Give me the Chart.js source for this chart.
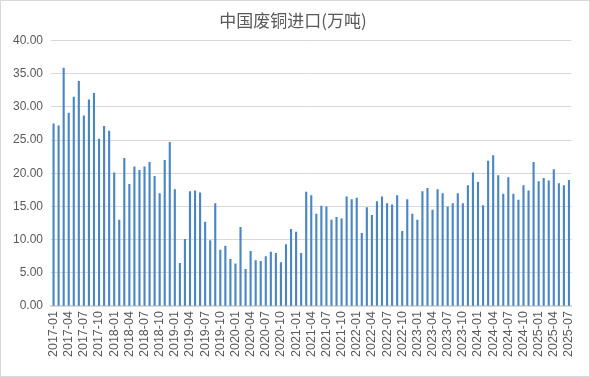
<!DOCTYPE html>
<html>
<head>
<meta charset="utf-8">
<script src="https://cdn.jsdelivr.net/npm/chart.js@4"></script>
<style>
  html, body { margin: 0; padding: 0; background: #fff; }
  #wrap { width: 588px; height: 375px; border: 1px solid #d9d9d9; }
</style>
</head>
<body>
<div id="wrap"><canvas id="chart" width="588" height="375"></canvas></div>
<script>
// months 2017-01 .. 2025-07
const months = [];
for (let y = 2017; y <= 2025; y++) {
  for (let m = 1; m <= 12; m++) {
    if (y === 2025 && m > 7) break;
    months.push(y + "-" + String(m).padStart(2, "0"));
  }
}

// 万吨
const imports2017 = [27.5, 27.2, 35.9, 29.1, 31.5, 33.9, 28.7, 31.1, 32.1, 25.2, 27.1, 26.4];
const imports2018 = [20.1, 13.0, 22.3, 18.4, 21.0, 20.5, 21.0, 21.7, 19.6, 17.0, 22.0, 24.7];
const imports2019 = [17.6, 6.5, 10.1, 17.3, 17.4, 17.1, 12.7, 9.9, 15.5, 8.5, 9.1, 7.1];
const imports2020 = [6.4, 11.9, 5.6, 8.3, 6.9, 6.8, 7.5, 8.2, 8.0, 6.6, 9.3, 11.6];
const imports2021 = [11.2, 8.0, 17.2, 16.7, 13.9, 15.1, 15.0, 13.0, 13.4, 13.2, 16.5, 16.1];
const imports2022 = [16.3, 11.0, 14.9, 13.7, 15.8, 16.5, 15.5, 15.3, 16.7, 11.3, 16.1, 13.9];
const imports2023 = [13.0, 17.3, 17.8, 14.5, 17.6, 17.0, 15.0, 15.5, 17.0, 15.5, 18.2, 20.1];
const imports2024 = [18.7, 15.2, 21.9, 22.7, 19.7, 16.9, 19.4, 16.9, 16.0, 18.2, 17.4, 21.7];
const imports2025 = [18.8, 19.3, 18.9, 20.6, 18.5, 18.2, 19.0];

const values = [].concat(imports2017, imports2018, imports2019, imports2020,
  imports2021, imports2022, imports2023, imports2024, imports2025);

const ctx = document.getElementById("chart").getContext("2d");
new Chart(ctx, {
  type: "bar",
  data: {
    labels: months,
    datasets: [{
      data: values,
      backgroundColor: "#4a86c4",
      barPercentage: 0.42,
      categoryPercentage: 1
    }]
  },
  options: {
    responsive: false,
    animation: false,
    layout: { padding: { left: 4, right: 8, top: 5, bottom: 14 } },
    plugins: {
      legend: { display: false },
      tooltip: { enabled: false },
      title: {
        display: true,
        text: "中国废铜进口(万吨)",
        color: "#595959",
        font: { family: "'Noto Sans CJK SC', sans-serif", size: 17, weight: "normal" },
        padding: { top: 4, bottom: 10 }
      }
    },
    scales: {
      x: {
        grid: { display: false, drawTicks: false },
        border: { color: "#d9d9d9", width: 2 },
        ticks: {
          autoSkip: false,
          maxRotation: 90,
          minRotation: 90,
          padding: 5,
          color: "#595959",
          font: { family: "'Liberation Sans', Arial, sans-serif", size: 12.5 },
          callback: function (v, i) { return i % 3 === 0 ? months[i] : ""; }
        }
      },
      y: {
        min: 0,
        max: 40,
        grid: { color: "#d9d9d9", drawTicks: false },
        border: { display: false },
        ticks: {
          stepSize: 5,
          padding: 8,
          color: "#595959",
          font: { family: "'Liberation Sans', Arial, sans-serif", size: 12 },
          callback: v => v.toFixed(2)
        }
      }
    }
  }
});
</script>
</body>
</html>
